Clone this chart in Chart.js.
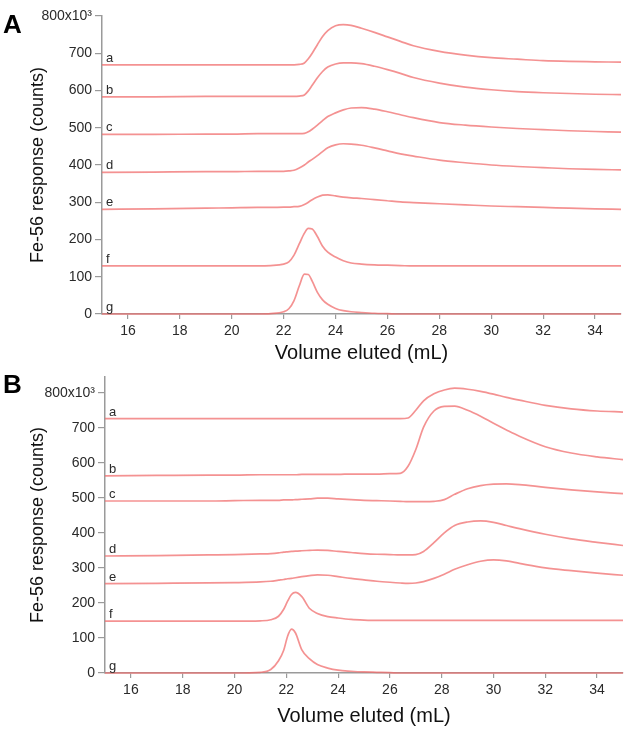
<!DOCTYPE html>
<html>
<head>
<meta charset="utf-8">
<script src="https://cdn.jsdelivr.net/npm/chart.js@4.4.1/dist/chart.umd.min.js"></script>
<style>
  body { margin: 0; background: #fff; }
  #wrap { position: relative; width: 629px; height: 732px; }
  .panel { position: absolute; left: 0; width: 629px; }
  .tag { position: absolute; left: 3px; font: bold 26px "Liberation Sans", Arial, sans-serif; line-height: 1; color: #000; }
</style>
</head>
<body>
<div id="wrap">
  <div class="panel" style="top:0;height:365px"><canvas id="chartA"></canvas></div>
  <div class="panel" style="top:365px;height:367px"><canvas id="chartB"></canvas></div>
  <div class="tag" style="top:11px">A</div>
  <div class="tag" style="top:371px">B</div>
</div>
<script>
// ---------------------------------------------------------------------------
// data (Fe-56 response, x10^3 counts, vs elution volume in mL)
// ---------------------------------------------------------------------------
const traceNames = ["a", "b", "c", "d", "e", "f", "g"];
const xTicks = [16, 18, 20, 22, 24, 26, 28, 30, 32, 34];
const yTicks = [0, 100, 200, 300, 400, 500, 600, 700, 800];

// panel A
const volumeA = [15, 17, 19, 20, 21, 21.5, 22, 22.2, 22.4, 22.6, 22.8, 22.95, 23.1, 23.3, 23.5, 23.7,
                 24, 24.3, 24.6, 25, 25.5, 26, 26.5, 27, 28, 29, 30, 31, 32, 33, 34, 35];
const aA = [669, 669, 669, 669, 669, 669, 669, 669, 669, 670, 674, 685, 700, 723, 745, 761,
            774, 777, 775, 767, 756, 744, 732, 720, 705, 695, 688, 684, 680, 678, 677, 676];
const bA = [583, 583, 584, 584, 584, 584, 584, 584, 584, 585, 588, 599, 614, 634, 651, 663,
            671, 674, 674, 672, 665, 656, 646, 635, 620, 609, 602, 597, 594, 592, 590, 589];
const cA = [482, 482, 483, 483, 484, 484, 484, 484, 484, 484, 485, 489, 496, 507, 519, 530,
            540, 548, 553, 554, 550, 543, 535, 527, 514, 507, 502, 498, 495, 492, 490, 488];
const dA = [380, 381, 382, 382, 383, 383, 383, 384, 386, 392, 400, 408, 415, 425, 436, 446,
            454, 457, 456, 453, 446, 438, 430, 424, 413, 406, 400, 396, 393, 390, 388, 387];
const eA = [281, 282, 284, 285, 286, 286, 287, 287, 288, 289, 294, 300, 307, 314, 319, 320,
            317, 314, 312, 310, 307, 304, 301, 299, 296, 293, 290, 288, 286, 284, 282, 281];
const fA = [129, 129, 129, 129, 129, 130, 134, 140, 158, 188, 217, 230, 228, 208, 182, 166,
            153, 143, 137, 134, 132, 131, 130, 129, 129, 129, 129, 129, 129, 129, 129, 129];
const gA = [0, 0, 0, 0, 0, 1, 6, 14, 36, 75, 107, 106, 88, 58, 38, 26,
            15, 9, 6, 4, 2, 1, 0, 0, 0, 0, 0, 0, 0, 0, 0, 0];

// panel B
const volumeB = [15, 17, 19, 20, 21, 21.4, 21.7, 21.9, 22.05, 22.2, 22.35, 22.6, 22.9, 23.2, 23.6, 24,
                 24.5, 25, 25.5, 26, 26.4, 26.7, 27, 27.3, 27.7, 28.1, 28.5, 29, 29.5, 30, 30.5, 31,
                 32, 33, 34, 35];
const aB = [726, 726, 726, 726, 726, 726, 726, 726, 726, 726, 726, 726, 726, 726, 726, 726,
            726, 726, 726, 726, 726, 728, 750, 777, 797, 808, 813, 810, 804, 796, 787, 779,
            764, 754, 748, 745];
const bB = [563, 564, 565, 565, 566, 566, 566, 566, 566, 566, 566, 567, 567, 567, 567, 567,
            568, 568, 568, 569, 570, 590, 638, 702, 748, 761, 762, 750, 733, 713, 694, 676,
            646, 628, 617, 609];
const cB = [491, 491, 491, 492, 493, 493, 493, 494, 494, 494, 495, 496, 497, 499, 499, 497,
            495, 493, 492, 491, 490, 489, 489, 489, 490, 495, 510, 526, 535, 539, 540, 538,
            530, 523, 517, 512];
const dB = [334, 335, 337, 338, 340, 341, 343, 345, 346, 347, 348, 349, 350, 351, 350, 347,
            344, 341, 339, 338, 337, 337, 338, 347, 372, 400, 421, 431, 434, 430, 421, 412,
            396, 383, 373, 364];
const eB = [255, 256, 257, 258, 260, 262, 265, 267, 269, 270, 272, 275, 278, 280, 279, 275,
            270, 266, 262, 259, 257, 256, 257, 261, 270, 282, 296, 309, 319, 323, 320, 313,
            300, 292, 285, 279];
const fB = [148, 148, 148, 148, 149, 152, 162, 182, 205, 224, 230, 218, 184, 170, 161, 157,
            153, 151, 150, 150, 150, 150, 150, 150, 150, 150, 150, 150, 150, 150, 150, 150,
            150, 150, 150, 150];
const gB = [0, 0, 0, 0, 2, 10, 35, 65, 105, 125, 115, 66, 40, 24, 14, 8,
            5, 3, 2, 1, 0, 0, 0, 0, 0, 0, 0, 0, 0, 0, 0, 0,
            0, 0, 0, 0];

// ---------------------------------------------------------------------------
// 描画
// ---------------------------------------------------------------------------
const FONT = '"Liberation Sans", Arial, Helvetica, sans-serif';
const LINE = "rgba(240, 110, 110, 0.75)";
const AXIS = "#9a9a9a";
const TEXT = "#2a2a2a";

// 各トレースの左端に a〜g を書く
const traceTags = {
    id: "traceTags",
    afterDatasetsDraw(chart) {
        const { ctx, chartArea } = chart;
        ctx.save();
        ctx.font = "13px " + FONT;
        ctx.fillStyle = TEXT;
        ctx.textBaseline = "alphabetic";
        chart.data.datasets.forEach((ds, i) => {
            const first = chart.getDatasetMeta(i).data[0];
            ctx.fillText(ds.label, chartArea.left + 4, first.y - 3);
        });
        ctx.restore();
    }
};

const makeChart = (id, volume, series, yMax, box) => {
    const datasets = series.map((values, i) => ({
        label: traceNames[i],
        data: volume.map((v, k) => ({ x: v, y: values[k] })),
        clip: 4,
    }));

    return new Chart(document.getElementById(id), {
        type: "line",
        data: { datasets },
        plugins: [traceTags],
        options: {
            responsive: true,
            maintainAspectRatio: false,
            animation: false,
            layout: { padding: { top: box.top, right: 629 - box.right, left: 0, bottom: 0 } },
            plugins: { legend: { display: false }, tooltip: { enabled: false } },
            elements: {
                point: { radius: 0 },
                line: { borderColor: LINE, borderWidth: 1.7, cubicInterpolationMode: "monotone" },
            },
            scales: {
                x: {
                    type: "linear",
                    min: 15,
                    max: 35,
                    afterFit: (s) => { s.height = box.height - box.bottom; },
                    afterBuildTicks: (s) => { s.ticks = xTicks.map((v) => ({ value: v })); },
                    grid: { drawOnChartArea: false, drawTicks: true, tickLength: 5, color: AXIS, lineWidth: 1.2 },
                    border: { display: true, color: AXIS, width: 1.5 },
                    ticks: { color: TEXT, font: { family: FONT, size: 14 }, padding: 4, maxRotation: 0 },
                    title: {
                        display: true,
                        text: "Volume eluted (mL)",
                        color: "#111",
                        font: { family: FONT, size: 20 },
                        padding: { top: 0, bottom: box.titlePad },
                    },
                },
                y: {
                    min: 0,
                    max: yMax,
                    afterFit: (s) => { s.width = box.left; },
                    afterBuildTicks: (s) => { s.ticks = yTicks.map((v) => ({ value: v })); },
                    grid: { drawOnChartArea: false, drawTicks: true, tickLength: 7, color: AXIS, lineWidth: 1.2 },
                    border: { display: true, color: AXIS, width: 1.5 },
                    ticks: {
                        color: TEXT,
                        font: { family: FONT, size: 14 },
                        padding: 3,
                        callback: (v) => (v === 800 ? "800x10³" : v),
                    },
                    title: {
                        display: true,
                        text: "Fe-56 response (counts)",
                        color: "#111",
                        font: { family: FONT, size: 18 },
                        padding: { top: 27, bottom: 0 },
                    },
                },
            },
        },
    });
};

makeChart("chartA", volumeA, [aA, bA, cA, dA, eA, fA, gA], 800,
    { left: 102, right: 621, top: 16, bottom: 314, height: 365, titlePad: 0 });
makeChart("chartB", volumeB, [aB, bB, cB, dB, eB, fB, gB], 845,
    { left: 105, right: 623, top: 12, bottom: 308, height: 367, titlePad: 4 });
</script>
</body>
</html>
